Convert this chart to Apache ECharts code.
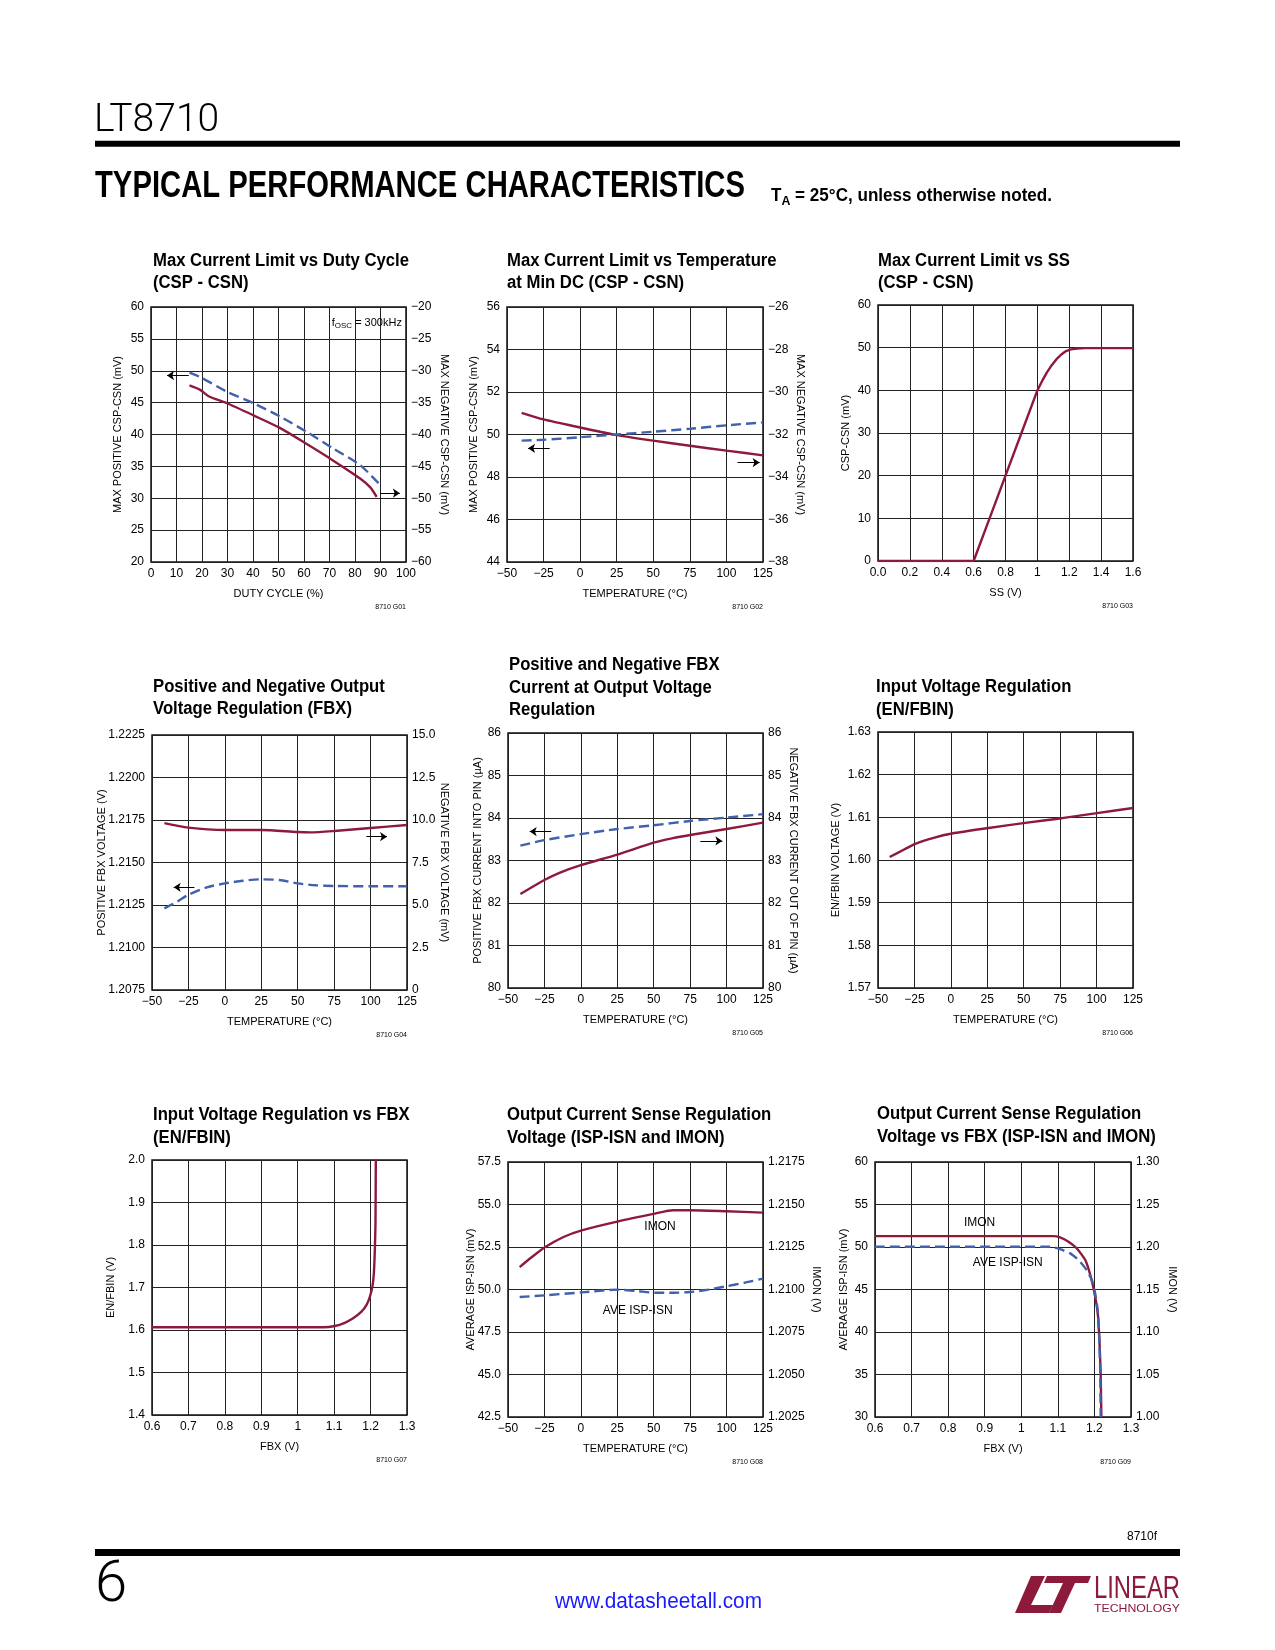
<!DOCTYPE html>
<html><head><meta charset="utf-8">
<script src="https://cdn.jsdelivr.net/npm/echarts@6/dist/echarts.min.js"></script>
<style>html,body{margin:0;padding:0;background:#fff}#c{width:1275px;height:1650px}</style>
</head><body><div id="c"></div>
<script>
// ---------------- DATA ----------------
// G01 Max current limit vs duty cycle
const g1PosDuty = [15.1, 19.3, 29.8, 40.2, 50.7, 61.1, 71.5, 82.0, 89.6];
const g1PosMv   = [49.7, 49.0, 46.7, 44.9, 42.8, 40.4, 37.8, 35.2, 32.2];
const g1NegDuty = [15.1, 19.3, 22.6, 29.8, 40.2, 50.7, 61.1, 71.5, 82.0, 86.0, 88.5];
const g1NegMv   = [-32.3, -33.0, -34.0, -35.1, -37.0, -39.0, -41.5, -44.1, -46.9, -48.3, -49.8];
// G02 Max current limit vs temperature
const g2Temp    = [-40, -25, 0, 25, 50, 75, 100, 125];
const g2PosMv   = [49.71, 49.75, 49.87, 50.0, 50.13, 50.27, 50.43, 50.57];
const g2NegMv   = [-30.98, -31.29, -31.67, -32.03, -32.29, -32.53, -32.76, -32.98];
// G03 Max current limit vs SS
const g3Ss      = [0, 0.6, 0.7, 0.8, 0.9, 1.0, 1.03, 1.06, 1.09, 1.12, 1.15, 1.18, 1.21, 1.25, 1.3, 1.6];
const g3Mv      = [0, 0, 10, 20, 30, 40, 42.2, 44.2, 45.9, 47.3, 48.4, 49.2, 49.6, 49.8, 49.9, 49.9];
// G04 FBX regulation
const g4PosTemp = [-41.5, -32.8, -25, -12.3, 0, 12.5, 25, 37.5, 50, 62.5, 75, 100, 125];
const g4PosV    = [1.2123, 1.2127, 1.2131, 1.21354, 1.21377, 1.21393, 1.21401, 1.21397, 1.21377, 1.21366, 1.21362, 1.2136, 1.2136];
const g4NegTemp = [-41.5, -25, 0, 25, 50, 58.7, 75, 100, 125];
const g4NegMv   = [9.82, 9.55, 9.41, 9.41, 9.29, 9.27, 9.35, 9.53, 9.71];
// G05 FBX current
const g5PosTemp = [-41.5, -25, 0, 25, 50, 75, 100, 125];
const g5PosUa   = [83.35, 83.48, 83.62, 83.74, 83.83, 83.93, 84.01, 84.09];
const g5NegTemp = [-41.5, -25, -14.7, 0, 25, 50, 62.5, 75, 100, 125];
const g5NegUa   = [82.21, 82.54, 82.71, 82.89, 83.14, 83.42, 83.52, 83.60, 83.74, 83.89];
// G06 EN/FBIN vs temperature
const g6Temp    = [-42, -32.4, -24.4, -11.8, 0.8, 26, 51.1, 76.3, 100.3, 125];
const g6V       = [1.6007, 1.6024, 1.6038, 1.6052, 1.6062, 1.6075, 1.6087, 1.6098, 1.6110, 1.6122];
// G07 EN/FBIN vs FBX
const g7Fbx     = [0.6, 1.07, 1.102, 1.129, 1.152, 1.175, 1.189, 1.198, 1.205, 1.209, 1.2117, 1.2135, 1.2144];
const g7V       = [1.6063, 1.6063, 1.6094, 1.617, 1.6275, 1.643, 1.659, 1.678, 1.702, 1.733, 1.788, 1.851, 2.0];
// G08 ISP-ISN / IMON vs temperature
const g8AveTemp = [-42, -24.4, 0.6, 25.7, 38.3, 50.8, 63.3, 74.8, 87.4, 99.9, 112.4, 125];
const g8AveMv   = [49.56, 49.66, 49.83, 49.99, 49.91, 49.81, 49.81, 49.85, 49.99, 50.19, 50.40, 50.64];
const g8ImonTemp= [-42, -33.6, -24.4, -11.9, 0.6, 25.7, 50.8, 63.3, 74.8, 99.9, 125];
const g8ImonV   = [1.21132, 1.21191, 1.2125, 1.21309, 1.21348, 1.21401, 1.21446, 1.21466, 1.21466, 1.2146, 1.21452];
// G09 ISP-ISN / IMON vs FBX
const g9AveFbx  = [0.6, 1.079, 1.106, 1.134, 1.157, 1.179, 1.193, 1.202, 1.209, 1.213, 1.216, 1.217];
const g9AveMv   = [50.03, 50.03, 49.75, 49.25, 48.46, 47.29, 46.12, 44.55, 42.6, 39.47, 35.17, 30];
const g9ImonFbx = [0.6, 1.088, 1.106, 1.129, 1.152, 1.175, 1.19, 1.202, 1.21, 1.214, 1.217, 1.219];
const g9ImonV   = [1.2128, 1.2128, 1.2112, 1.2061, 1.1983, 1.1846, 1.165, 1.1416, 1.1181, 1.0869, 1.0517, 1.0];

// ---------------- TICK LABELS ----------------
const dutyTicks   = ['0','10','20','30','40','50','60','70','80','90','100'];
const tempTicks   = ['\u221250','\u221225','0','25','50','75','100','125'];
const ssTicks     = ['0.0','0.2','0.4','0.6','0.8','1','1.2','1.4','1.6'];
const fbxTicks    = ['0.6','0.7','0.8','0.9','1','1.1','1.2','1.3'];
const g1LeftTicks = ['20','25','30','35','40','45','50','55','60'];
const g1RightTicks= ['\u221260','\u221255','\u221250','\u221245','\u221240','\u221235','\u221230','\u221225','\u221220'];
const g2LeftTicks = ['44','46','48','50','52','54','56'];
const g2RightTicks= ['\u221238','\u221236','\u221234','\u221232','\u221230','\u221228','\u221226'];
const g3YTicks    = ['0','10','20','30','40','50','60'];
const g4LeftTicks = ['1.2075','1.2100','1.2125','1.2150','1.2175','1.2200','1.2225'];
const g4RightTicks= ['0','2.5','5.0','7.5','10.0','12.5','15.0'];
const g5Ticks     = ['80','81','82','83','84','85','86'];
const g6Ticks     = ['1.57','1.58','1.59','1.60','1.61','1.62','1.63'];
const g7YTicks    = ['1.4','1.5','1.6','1.7','1.8','1.9','2.0'];
const g8LeftTicks = ['42.5','45.0','47.5','50.0','52.5','55.0','57.5'];
const g8RightTicks= ['1.2025','1.2050','1.2075','1.2100','1.2125','1.2150','1.2175'];
const g9LeftTicks = ['30','35','40','45','50','55','60'];
const g9RightTicks= ['1.00','1.05','1.10','1.15','1.20','1.25','1.30'];

// annotation arrows [x1,y1,x2,y2] in data units
const g1ArrowL = [14.8, 49.25, 6.3, 49.25];
const g1ArrowR = [89.8, -49.2, 97.6, -49.2];
const g2ArrowL = [-20.8, 49.35, -35.6, 49.35];
const g2ArrowR = [107.6, -33.32, 122.7, -33.32];
const g4ArrowL = [-20.9, 1.21354, -35.1, 1.21354];
const g4ArrowR = [97.1, 9.02, 111.3, 9.02];
const g5ArrowL = [-20.3, 83.68, -35.1, 83.68];
const g5ArrowR = [82.0, 83.46, 97.1, 83.46];

// ---------------- STYLE / LAYOUT ----------------
const FONT = "'Liberation Sans',Arial,sans-serif";
const LIGHT = "Roboto,'DejaVu Sans',sans-serif";
const RED = '#8e1a3b', BLUE = '#4161ad';
const zip = (xs, ys) => xs.map((x, i) => [x, ys[i]]);
const mctx = document.createElement('canvas').getContext('2d');
function textW(text, font) { mctx.font = font; return mctx.measureText(text).width; }
function fit(text, font, target) { return target / textW(text, font); }

const G = [
  {left:151, top:307, width:255, height:255},
  {left:507, top:307, width:256, height:255},
  {left:878, top:305, width:255, height:256},
  {left:152, top:735, width:255, height:255},
  {left:508, top:733, width:255, height:255},
  {left:878, top:732, width:255, height:256},
  {left:152, top:1160, width:255, height:255},
  {left:508, top:1162, width:255, height:255},
  {left:875, top:1162, width:256, height:255}
];
const TICK_FS = 12, NAME_FS = 11;

function fmt(ticks, min, interval) {
  return v => ticks[Math.round((v - min) / interval)] ?? '';
}
function xAx(gi, min, max, interval, ticks, name) {
  return {type:'value', gridIndex:gi, min, max, interval, name, nameLocation:'middle', nameGap:26,
    nameMoveOverlap:false,
    nameTextStyle:{fontFamily:FONT, fontSize:NAME_FS, color:'#000'},
    axisLine:{show:false}, axisTick:{show:false},
    axisLabel:{fontFamily:FONT, fontSize:TICK_FS, color:'#000', margin:6, formatter:fmt(ticks, min, interval)},
    splitLine:{show:true, lineStyle:{color:'#222', width:1}}};
}
function yAx(gi, min, max, interval, ticks, name, gap, right) {
  return {type:'value', gridIndex:gi, min, max, interval, position:right ? 'right' : 'left',
    name, nameLocation:'middle', nameGap:gap, nameRotate:right ? -90 : 90, nameMoveOverlap:false,
    nameTextStyle:{fontFamily:FONT, fontSize:NAME_FS, color:'#000'},
    axisLine:{show:false}, axisTick:{show:false},
    axisLabel:{fontFamily:FONT, fontSize:TICK_FS, color:'#000', margin:right ? 5 : 7, formatter:fmt(ticks, min, interval)},
    splitLine:{show:!right, lineStyle:{color:'#222', width:1}}};
}
function ser(xi, yi, data, color, dashed, extra) {
  return Object.assign({type:'line', xAxisIndex:xi, yAxisIndex:yi, data, symbol:'none', showSymbol:false,
    smooth:0.25, silent:true, z:5,
    lineStyle:{color, width:2.4, type:dashed ? [10, 5] : 'solid'}}, extra || {});
}
function arrows(list) {
  return {silent:true, symbol:['none','arrow'], symbolSize:7, animation:false,
    lineStyle:{color:'#000', width:1, type:'solid'}, label:{show:false},
    data:list.map(a => [{coord:[a[0], a[1]]}, {coord:[a[2], a[3]]}])};
}
function labels(list) {
  return {silent:true, symbol:'circle', symbolSize:1, itemStyle:{color:'rgba(0,0,0,0)'}, animation:false,
    label:{show:true, position:'inside', color:'#000', fontFamily:FONT, fontSize:12},
    data:list.map(l => ({coord:[l[0], l[1]], label:{formatter:l[2]}}))};
}

const grid = G.map(g => Object.assign({show:true, borderColor:'#111', borderWidth:1.5, backgroundColor:'transparent',
  containLabel:false, outerBoundsMode:'none'}, g));

const xAxis = [
  xAx(0, 0, 100, 10, dutyTicks, 'DUTY CYCLE (%)'),
  xAx(1, -50, 125, 25, tempTicks, 'TEMPERATURE (\u00B0C)'),
  xAx(2, 0, 1.6, 0.2, ssTicks, 'SS (V)'),
  xAx(3, -50, 125, 25, tempTicks, 'TEMPERATURE (\u00B0C)'),
  xAx(4, -50, 125, 25, tempTicks, 'TEMPERATURE (\u00B0C)'),
  xAx(5, -50, 125, 25, tempTicks, 'TEMPERATURE (\u00B0C)'),
  xAx(6, 0.6, 1.3, 0.1, fbxTicks, 'FBX (V)'),
  xAx(7, -50, 125, 25, tempTicks, 'TEMPERATURE (\u00B0C)'),
  xAx(8, 0.6, 1.3, 0.1, fbxTicks, 'FBX (V)')
];
const yAxis = [
  yAx(0, 20, 60, 5, g1LeftTicks, 'MAX POSITIVE CSP-CSN (mV)', 28, false),            //0
  yAx(0, -60, -20, 5, g1RightTicks, 'MAX NEGATIVE CSP-CSN (mV)', 33, true),          //1
  yAx(1, 44, 56, 2, g2LeftTicks, 'MAX POSITIVE CSP-CSN (mV)', 28, false),            //2
  yAx(1, -38, -26, 2, g2RightTicks, 'MAX NEGATIVE CSP-CSN (mV)', 32, true),          //3
  yAx(2, 0, 60, 10, g3YTicks, 'CSP-CSN (mV)', 27, false),                            //4
  yAx(3, 1.2075, 1.2225, 0.0025, g4LeftTicks, 'POSITIVE FBX VOLTAGE (V)', 45, false),//5
  yAx(3, 0, 15, 2.5, g4RightTicks, 'NEGATIVE FBX VOLTAGE (mV)', 32, true),           //6
  yAx(4, 80, 86, 1, g5Ticks, 'POSITIVE FBX CURRENT INTO PIN (\u00B5A)', 25, false),  //7
  yAx(4, 80, 86, 1, g5Ticks, 'NEGATIVE FBX CURRENT OUT OF PIN (\u00B5A)', 25, true), //8
  yAx(5, 1.57, 1.63, 0.01, g6Ticks, 'EN/FBIN VOLTAGE (V)', 37, false),               //9
  yAx(6, 1.4, 2.0, 0.1, g7YTicks, 'EN/FBIN (V)', 36, false),                         //10
  yAx(7, 42.5, 57.5, 2.5, g8LeftTicks, 'AVERAGE ISP-ISN (mV)', 32, false),           //11
  yAx(7, 1.2025, 1.2175, 0.0025, g8RightTicks, 'IMON (V)', 48, true),                //12
  yAx(8, 30, 60, 5, g9LeftTicks, 'AVERAGE ISP-ISN (mV)', 26, false),                 //13
  yAx(8, 1.0, 1.3, 0.05, g9RightTicks, 'IMON (V)', 36, true)                         //14
];

const series = [
  ser(0, 1, zip(g1NegDuty, g1NegMv), RED, false, {markLine:arrows([g1ArrowR])}),
  ser(0, 0, zip(g1PosDuty, g1PosMv), BLUE, true, {markLine:arrows([g1ArrowL]),
    markPoint:{silent:true, symbol:'circle', symbolSize:1, itemStyle:{color:'rgba(0,0,0,0)'},
      data:[{coord:[98.4, 57.4]}],
      label:{show:true, position:'inside', align:'right', verticalAlign:'middle', color:'#000', fontFamily:FONT,
        formatter:'{a|f}{s|OSC}{a| = 300kHz}',
        rich:{a:{fontFamily:FONT, fontSize:11, color:'#000', verticalAlign:'top', lineHeight:13},
              s:{fontFamily:FONT, fontSize:8, color:'#000', verticalAlign:'top', lineHeight:9, padding:[5,0,0,0]}}}}}),
  ser(1, 3, zip(g2Temp, g2NegMv), RED, false, {markLine:arrows([g2ArrowR])}),
  ser(1, 2, zip(g2Temp, g2PosMv), BLUE, true, {markLine:arrows([g2ArrowL])}),
  ser(2, 4, zip(g3Ss, g3Mv), RED, false, {smooth:false}),
  ser(3, 6, zip(g4NegTemp, g4NegMv), RED, false, {markLine:arrows([g4ArrowR])}),
  ser(3, 5, zip(g4PosTemp, g4PosV), BLUE, true, {markLine:arrows([g4ArrowL])}),
  ser(4, 8, zip(g5NegTemp, g5NegUa), RED, false, {markLine:arrows([g5ArrowR])}),
  ser(4, 7, zip(g5PosTemp, g5PosUa), BLUE, true, {markLine:arrows([g5ArrowL])}),
  ser(5, 9, zip(g6Temp, g6V), RED, false),
  ser(6, 10, zip(g7Fbx, g7V), RED, false, {smooth:0.15}),
  ser(7, 12, zip(g8ImonTemp, g8ImonV), RED, false),
  ser(7, 11, zip(g8AveTemp, g8AveMv), BLUE, true, {markPoint:labels([[54.3, 53.68, 'IMON'], [39, 48.77, 'AVE ISP-ISN']])}),
  ser(8, 14, zip(g9ImonFbx, g9ImonV), RED, false, {smooth:0.15}),
  ser(8, 13, zip(g9AveFbx, g9AveMv), BLUE, true, {smooth:0.15, markPoint:labels([[0.886, 52.88, 'IMON'], [0.963, 48.19, 'AVE ISP-ISN']])})
];

// ---------------- TITLES & PAGE TEXT ----------------
const TFONT = "bold 18px 'Liberation Sans',Arial,sans-serif";
const titleScale = fit('Max Current Limit vs Duty Cycle', TFONT, 256);
const titles = [
  ['Max Current Limit vs Duty Cycle\n(CSP - CSN)', 153, 249.5],
  ['Max Current Limit vs Temperature\nat Min DC (CSP - CSN)', 507, 249.5],
  ['Max Current Limit vs SS\n(CSP - CSN)', 878, 249.5],
  ['Positive and Negative Output\nVoltage Regulation (FBX)', 153, 675.5],
  ['Positive and Negative FBX\nCurrent at Output Voltage\nRegulation', 509, 653.8],
  ['Input Voltage Regulation\n(EN/FBIN)', 876, 676],
  ['Input Voltage Regulation vs FBX\n(EN/FBIN)', 153, 1103.8],
  ['Output Current Sense Regulation\nVoltage (ISP-ISN and IMON)', 507, 1103.8],
  ['Output Current Sense Regulation\nVoltage vs FBX (ISP-ISN and IMON)', 877, 1102.8]
];

const graphic = [];
titles.forEach(t => graphic.push({type:'text', x:t[1], y:t[2], scaleX:titleScale, silent:true,
  style:{text:t[0], font:TFONT, fill:'#000', lineHeight:22.5, align:'left', verticalAlign:'top'}}));
G.forEach((g, i) => graphic.push({type:'text', x:g.left + g.width, y:g.top + g.height + 45, silent:true,
  style:{text:'8710 G0' + (i + 1), fontFamily:FONT, fontSize:7, fill:'#000', align:'right', verticalAlign:'middle'}}));
// header
graphic.push({type:'text', x:94, y:121, silent:true,
  style:{text:'LT8710', fontFamily:LIGHT, fontWeight:300, fontSize:39, fill:'#000', align:'left', verticalAlign:'middle'}});
graphic.push({type:'rect', shape:{x:95, y:140.7, width:1085, height:6}, style:{fill:'#000'}, silent:true});
const HFONT = "bold 37px 'Liberation Sans',Arial,sans-serif";
const HTEXT = 'TYPICAL PERFORMANCE CHARACTERISTICS';
graphic.push({type:'text', x:95, y:187, scaleX:fit(HTEXT, HFONT, 650), silent:true,
  style:{text:HTEXT, font:HFONT, fill:'#000', align:'left', verticalAlign:'middle'}});
const NA = "bold 18px 'Liberation Sans',Arial,sans-serif", NS = "bold 13px 'Liberation Sans',Arial,sans-serif";
const NREST = ' = 25\u00B0C, unless otherwise noted.';
const noteW = textW('T', NA) + textW('A', NS) + textW(NREST, NA);
graphic.push({type:'text', x:771, y:197, scaleX:281 / noteW, silent:true,
  style:{text:'{a|T}{s|A}{a|' + NREST + '}', align:'left', verticalAlign:'middle',
    rich:{a:{font:NA, fill:'#000', verticalAlign:'top', lineHeight:20},
          s:{font:NS, fill:'#000', verticalAlign:'top', lineHeight:14, padding:[8,0,0,0]}}}});
// footer
graphic.push({type:'text', x:1157, y:1537, silent:true,
  style:{text:'8710f', fontFamily:FONT, fontSize:12, fill:'#000', align:'right', verticalAlign:'middle'}});
graphic.push({type:'rect', shape:{x:95, y:1549, width:1085, height:7}, style:{fill:'#000'}, silent:true});
graphic.push({type:'text', x:95, y:1586, silent:true,
  style:{text:'6', fontFamily:LIGHT, fontWeight:300, fontSize:58, fill:'#000', align:'left', verticalAlign:'middle'}});
const WFONT = "22px 'Liberation Sans',Arial,sans-serif", WTEXT = 'www.datasheetall.com';
graphic.push({type:'text', x:555, y:1602, scaleX:fit(WTEXT, WFONT, 207), silent:true,
  style:{text:WTEXT, font:WFONT, fill:'#1a1aff', align:'left', verticalAlign:'middle'}});
// Linear logo
graphic.push({type:'polygon', silent:true, shape:{points:[[1031,1576],[1045,1576],[1031,1605],[1053,1605],[1049,1613],[1015,1613]]}, style:{fill:RED}});
graphic.push({type:'polygon', silent:true, shape:{points:[[1047,1576],[1091,1576],[1088,1583],[1044,1583]]}, style:{fill:RED}});
graphic.push({type:'polygon', silent:true, shape:{points:[[1063,1583],[1075,1583],[1061,1613],[1049,1613]]}, style:{fill:RED}});
const LFONT = "32px 'Liberation Sans',Arial,sans-serif", TECHF = "11px 'Liberation Sans',Arial,sans-serif";
graphic.push({type:'text', x:1094, y:1589, scaleX:fit('LINEAR', LFONT, 86), silent:true,
  style:{text:'LINEAR', font:LFONT, fill:RED, align:'left', verticalAlign:'middle'}});
graphic.push({type:'text', x:1094, y:1609, scaleX:fit('TECHNOLOGY', TECHF, 86), silent:true,
  style:{text:'TECHNOLOGY', font:TECHF, fill:RED, align:'left', verticalAlign:'middle'}});

const chart = echarts.init(document.getElementById('c'), null, {renderer:'canvas', width:1275, height:1650});
chart.setOption({animation:false, backgroundColor:'#fff', grid, xAxis, yAxis, series, graphic});
</script>
</body></html>
